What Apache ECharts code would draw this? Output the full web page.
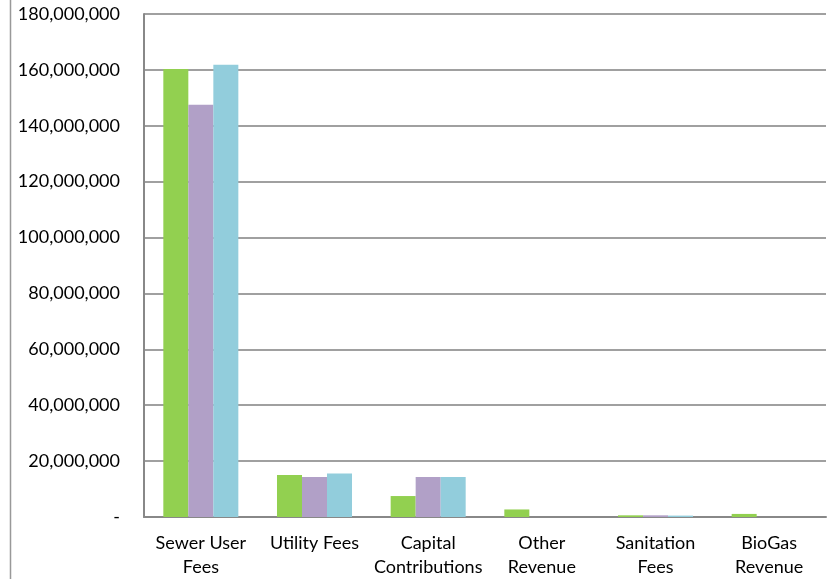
<!DOCTYPE html>
<html><head><meta charset="utf-8">
<script src="https://cdn.jsdelivr.net/npm/echarts@6/dist/echarts.min.js"></script>
<style>html,body{margin:0;padding:0;background:#fff}#c{width:833px;height:579px}</style>
</head><body><div id="c"></div>
<script>
const categories = ["Sewer User\nFees", "Utility Fees", "Capital\nContributions", "Other\nRevenue", "Sanitation\nFees", "BioGas\nRevenue"];
const series1 = [160300000, 15000000, 7500000, 2700000, 600000, 1100000];
const series2 = [147500000, 14300000, 14300000, 0, 600000, 0];
const series3 = [161800000, 15600000, 14300000, 0, 500000, 0];
const seriesNames = ["Series 1", "Series 2", "Series 3"];
const colors = ["#92d050", "#b1a0c7", "#92cddc"];
const yMax = 180000000, yInterval = 20000000;

const chart = echarts.init(document.getElementById('c'), null, {renderer: 'canvas'});
const font = 'Lato, "Open Sans", sans-serif';
chart.setOption({
  animation: false,
  color: colors,
  grid: {left: 144, right: 7, top: 14, bottom: 54, containLabel: false},
  graphic: [{type: 'line', shape: {x1: 10.5, y1: 0, x2: 10.5, y2: 579}, style: {stroke: '#999', lineWidth: 1.5}}],
  xAxis: {
    type: 'category', data: categories,
    axisLine: {lineStyle: {color: '#888', width: 2}},
    axisTick: {show: false},
    axisLabel: {color: '#000', fontSize: 18, fontFamily: font, margin: 14, lineHeight: 24, interval: 0}
  },
  yAxis: {
    type: 'value', min: 0, max: yMax, interval: yInterval,
    axisLine: {show: true, lineStyle: {color: '#888', width: 2}},
    axisTick: {show: false},
    splitLine: {lineStyle: {color: '#a0a0a0', width: 2}},
    axisLabel: {color: '#000', fontSize: 18, fontFamily: font, margin: 24,
      formatter: v => v === 0 ? '-' : v.toLocaleString('en-US')}
  },
  series: [series1, series2, series3].map((d, i) => ({
    type: 'bar', name: seriesNames[i], data: d,
    barGap: '0%', barCategoryGap: '34%'
  }))
});
</script></body></html>
